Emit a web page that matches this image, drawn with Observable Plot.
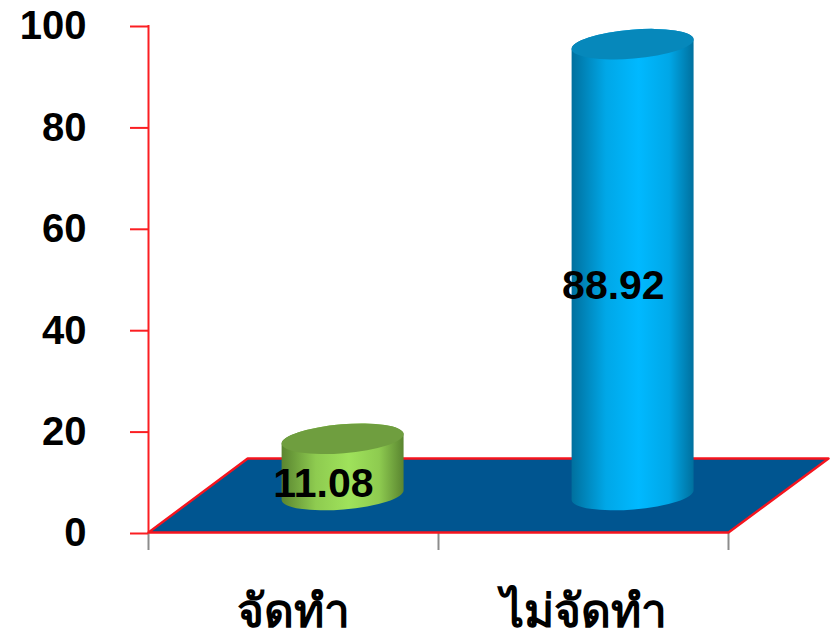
<!DOCTYPE html>
<html><head><meta charset="utf-8">
<script src="https://cdn.jsdelivr.net/npm/d3@7"></script>
<script src="https://cdn.jsdelivr.net/npm/@observablehq/plot@0.6"></script>
<style>html,body{margin:0;padding:0;background:#fff}svg{display:block;overflow:visible}</style>
</head><body><div id="chart"></div>
<script>
const categories = ["จัดทำ", "ไม่จัดทำ"];
const values = [11.08, 88.92];
const yTicks = [0, 20, 40, 60, 80, 100];
const xTicks = [0, 1, 2];
// floor corners in data units (x band units, y axis units)
const floorX = [0, 2, 2.345, 0.342, 0];
const floorY = [0, 0, 14.6, 14.6, 0];
const barPalette = [
  {edge: "#5a8530", mid: "#9fe25b", top: "#6f9e3f"},
  {edge: "#00709e", mid: "#00b9ff", top: "#0688bb"}
];
const barCenter = 0.671, barWidth = 0.422, barBase = 7.3, labelCenter = 0.603, labelBase = 4.1;
const font = "'Liberation Sans', Arial, sans-serif";

const rows = categories.map((c, i) => ({c, v: values[i], i}));
const floor = floorX.map((x, i) => ({x, y: floorY[i]}));

function cylinders(index, scales) {
  const g = d3.create("svg:g");
  const defs = g.append("defs");
  const tilt = -4.7 * Math.PI / 180, ry = 14.5;
  rows.forEach((d, i) => {
    const id = "cyl" + i, p = barPalette[i];
    const lg = defs.append("linearGradient").attr("id", id).attr("x1", 0).attr("x2", 1).attr("y1", 0).attr("y2", 0);
    [[0, p.edge], [0.28, d3.interpolateRgb(p.edge, p.mid)(0.75)], [0.55, p.mid], [0.8, d3.interpolateRgb(p.edge, p.mid)(0.75)], [1, p.edge]]
      .forEach(([o, c]) => lg.append("stop").attr("offset", o).attr("stop-color", c));
    const cx = scales.x(i + barCenter);
    const rx = (scales.x(barWidth) - scales.x(0)) / 2;
    const yb = scales.y(barBase), yt = scales.y(barBase + d.v);
    const dx = rx * Math.cos(tilt), dy = rx * Math.sin(tilt);
    const rot = tilt * 180 / Math.PI;
    g.append("path")
      .attr("d", `M${cx - dx},${yt - dy} L${cx - dx},${yb - dy} A${rx},${ry} ${rot} 0 0 ${cx + dx},${yb + dy} L${cx + dx},${yt + dy} A${rx},${ry} ${rot} 0 0 ${cx - dx},${yt - dy} Z`)
      .attr("fill", `url(#${id})`);
    g.append("ellipse")
      .attr("cx", cx).attr("cy", yt).attr("rx", rx).attr("ry", ry)
      .attr("transform", `rotate(${rot} ${cx} ${yt})`)
      .attr("fill", p.top);
  });
  return g.node();
}

const plot = Plot.plot({
  width: 833, height: 632,
  marginLeft: 148, marginRight: 105, marginTop: 25, marginBottom: 100,
  style: {fontFamily: font, background: "#fff"},
  x: {type: "linear", domain: [0, 2], axis: null},
  y: {type: "linear", domain: [0, 100], axis: null},
  marks: [
    Plot.axisX({ticks: xTicks, tickSize: 18, stroke: "#8c8c8c", strokeWidth: 2, tickFormat: () => "", label: null}),
    Plot.line(floor, {x: "x", y: "y", fill: "#005590", stroke: "#f5141e", strokeWidth: 2.4}),
    Plot.ruleX([0], {y1: 0, y2: 100, stroke: "#fb1e22", strokeWidth: 2}),
    Plot.axisY({ticks: yTicks, tickSize: 18, tickPadding: 44, stroke: "#fb1e22", strokeWidth: 2, fill: "#000", fontSize: 40, fontWeight: "bold", dy: 1, label: null}),
    cylinders,
    Plot.text(rows, {x: d => d.i + labelCenter, y: d => d.v / 2 + labelBase, text: d => d.v.toFixed(2), fontSize: 41, fontWeight: "bold", fill: "#000"}),
    Plot.text(rows, {x: d => d.i + 0.5, y: 0, dy: 80, text: "c", fontSize: 46, fontWeight: "bold", fill: "#000"})
  ]
});
document.getElementById("chart").append(plot);
</script></body></html>
